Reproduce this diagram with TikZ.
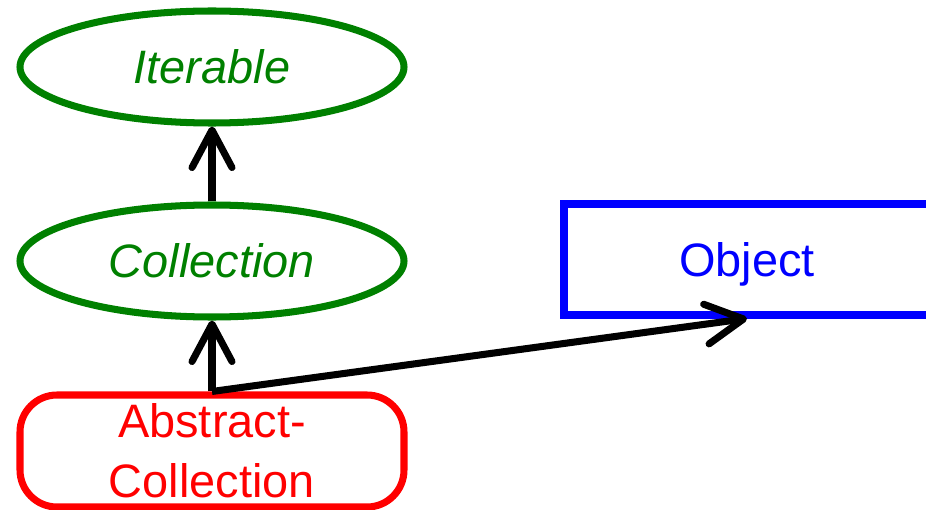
\documentclass[tikz,border=0pt]{standalone}
\usepackage{fontspec}
\setmainfont{Liberation Sans}
\usetikzlibrary{shapes,arrows.meta}

\begin{document}
\begin{tikzpicture}[
  iface/.style={ellipse, draw=green!50!black, text=green!50!black, line width=4pt,
    minimum width=7.68cm, minimum height=2.24cm, inner sep=0pt,
    font=\fontsize{26.7}{34}\selectfont\itshape},
  abscls/.style={rectangle, rounded corners=0.74cm, draw=red, text=red, line width=4pt,
    minimum width=7.68cm, minimum height=2.24cm, inner sep=0pt, align=center,
    font=\fontsize{26.7}{34}\selectfont},
  cls/.style={rectangle, draw=blue, text=blue, line width=4pt,
    minimum width=7.32cm, minimum height=2.22cm, inner sep=0pt, text depth=0pt,
    font=\fontsize{26.7}{34}\selectfont},
  inherit/.style={draw=black, line width=4pt,
    -{Straight Barb[length=0.75cm, width=0.8cm, round]}}
]
\useasboundingbox (0,0) rectangle (18.52,10.18);
% interfaces
\node[iface] (iterable) at (4.24,8.84) {Iterable};
\node[iface] (collection) at (4.24,4.96) {Collection};
% classes
\node[abscls] (abscoll) at (4.24,1.16) {Abstract-\\Collection};
\node[cls] (object) at (14.94,4.99) {Object};
% inheritance
\draw[inherit] (collection.north) -- (iterable.south);
\draw[inherit] (abscoll.north) -- (collection.south);
\draw[inherit] (abscoll.north) -- (object.south);
\end{tikzpicture}
\end{document}
